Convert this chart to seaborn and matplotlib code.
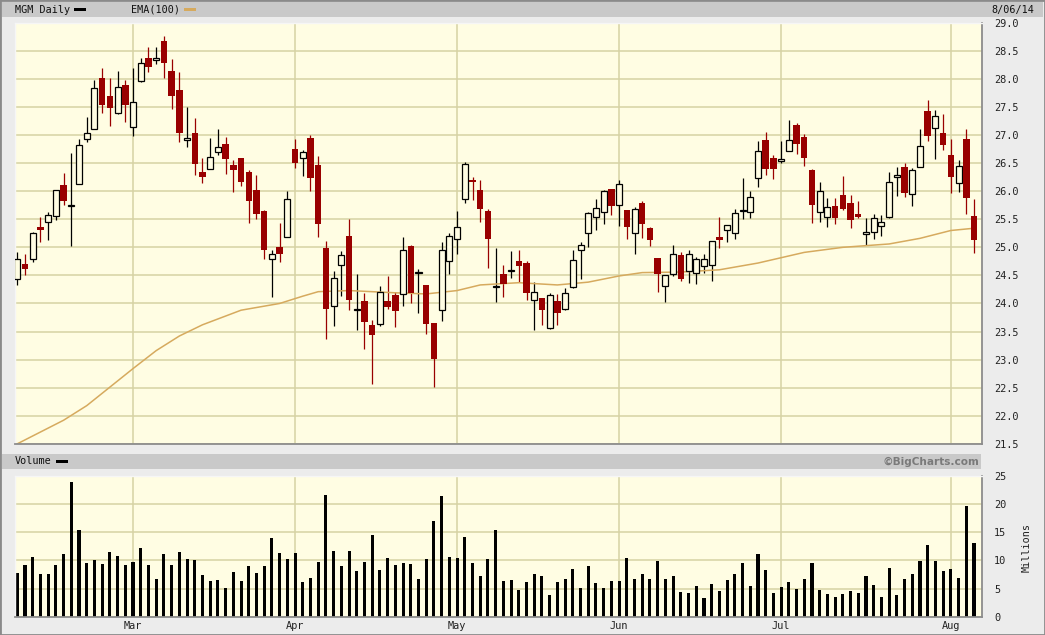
import matplotlib

matplotlib.use("Agg")
import matplotlib.pyplot as plt
import numpy as np
import pandas as pd
import seaborn as sns
from matplotlib.patches import Rectangle
from matplotlib.ticker import FormatStrFormatter

# trading days shown: 2014-02-07 .. 2014-08-06, exchange holidays removed
FIRST_DAY = "2014-02-07"
LAST_DAY = "2014-08-06"
HOLIDAYS = ["2014-02-17", "2014-04-18", "2014-05-26", "2014-07-04"]

OPENS = [
    24.43, 24.70, 24.80, 25.36, 25.45, 25.55, 26.11, 25.74, 26.13, 26.93,
    27.11, 28.01, 27.70, 27.39, 27.90, 27.14, 27.96, 28.38, 28.34, 28.67,
    28.14, 27.80, 26.91, 27.04, 26.35, 26.39, 26.70, 26.84, 26.47, 26.60,
    26.35, 26.02, 25.65, 24.79, 25.00, 25.19, 26.76, 26.59, 26.95, 26.46,
    24.99, 23.96, 24.68, 25.20, 23.89, 24.04, 23.61, 23.64, 24.04, 24.15,
    24.16, 25.02, 24.54, 24.33, 23.65, 23.875, 24.75, 25.15, 25.86, 26.20,
    26.02, 25.65, 24.30, 24.52, 24.58, 24.76, 24.72, 24.07, 24.09, 23.57,
    24.04, 23.90, 24.29, 24.96, 25.25, 25.54, 25.625, 26.04, 25.75, 25.66,
    25.25, 25.79, 25.345, 24.81, 24.31, 24.52, 24.86, 24.57, 24.54, 24.67,
    24.68, 25.18, 25.30, 25.25, 25.64, 25.625, 26.23, 26.91, 26.59, 26.54,
    26.72, 27.18, 26.97, 26.38, 25.625, 25.54, 25.74, 25.93, 25.79, 25.59,
    25.23, 25.27, 25.375, 25.54, 26.26, 26.43, 25.945, 26.43, 27.43, 27.13,
    27.04, 26.64, 26.15, 26.93, 25.55,
]
HIGHS = [
    24.92, 24.89, 25.27, 25.54, 25.63, 26.02, 26.32, 26.68, 26.93, 27.32,
    27.98, 28.20, 28.02, 28.14, 27.98, 28.20, 28.38, 28.56, 28.56, 28.76,
    28.35, 28.13, 27.50, 27.30, 26.59, 26.95, 27.11, 26.96, 26.55, 26.60,
    26.37, 26.29, 25.67, 24.95, 25.43, 26.01, 26.93, 26.73, 27.00, 26.63,
    25.11, 24.57, 24.93, 25.51, 24.52, 24.19, 23.71, 24.32, 24.49, 24.20,
    25.18, 25.04, 24.61, 24.33, 23.65, 25.10, 25.26, 25.65, 26.52, 26.26,
    26.20, 25.68, 24.99, 24.68, 24.93, 24.95, 24.75, 24.375, 24.09, 24.18,
    24.17, 24.27, 24.95, 25.10, 25.63, 25.86, 26.02, 26.04, 26.20, 25.66,
    25.71, 25.82, 25.37, 24.81, 24.51, 25.04, 24.92, 24.95, 24.82, 24.875,
    25.11, 25.54, 25.39, 25.68, 26.23, 26.00, 26.90, 27.06, 26.64, 26.90,
    27.26, 27.21, 27.02, 26.39, 26.17, 25.88, 25.87, 26.27, 25.93, 25.83,
    25.52, 25.59, 25.57, 26.35, 26.43, 26.51, 26.41, 27.10, 27.625, 27.45,
    27.37, 26.93, 26.56, 27.10, 25.86,
]
LOWS = [
    24.33, 24.51, 24.74, 25.10, 25.13, 25.49, 25.76, 25.02, 26.13, 26.87,
    27.11, 27.40, 27.17, 27.37, 27.24, 26.99, 27.94, 28.13, 28.26, 28.01,
    27.46, 26.87, 26.78, 26.28, 26.14, 26.39, 26.64, 26.30, 25.98, 26.10,
    25.44, 25.51, 24.80, 24.12, 24.74, 25.18, 26.42, 26.27, 26.00, 25.19,
    23.37, 23.60, 24.13, 23.89, 23.52, 23.19, 22.57, 23.60, 23.90, 23.58,
    23.96, 24.01, 23.83, 23.46, 22.51, 23.68, 24.53, 24.89, 25.79, 25.85,
    25.46, 24.625, 24.03, 24.12, 24.46, 24.39, 24.06, 23.52, 23.62, 23.54,
    23.62, 23.88, 24.27, 24.43, 25.01, 25.30, 25.41, 25.57, 25.375, 25.14,
    24.89, 25.17, 25.03, 24.20, 24.03, 24.49, 24.40, 24.37, 24.34, 24.54,
    24.40, 24.99, 25.10, 25.14, 25.50, 25.52, 26.07, 26.28, 26.21, 26.51,
    26.71, 26.66, 26.45, 25.43, 25.46, 25.36, 25.41, 25.67, 25.34, 25.52,
    25.05, 25.14, 25.21, 25.53, 25.92, 25.90, 25.73, 26.43, 26.90, 26.58,
    26.73, 25.96, 25.99, 25.595, 24.905,
]
CLOSES = [
    24.79, 24.62, 25.25, 25.30, 25.57, 26.02, 25.83, 25.75, 26.82, 27.04,
    27.84, 27.53, 27.48, 27.86, 27.53, 27.59, 28.29, 28.21, 28.38, 28.28,
    27.69, 27.03, 26.95, 26.49, 26.26, 26.61, 26.79, 26.57, 26.37, 26.17,
    25.83, 25.60, 24.96, 24.89, 24.875, 25.86, 26.51, 26.70, 26.24, 25.42,
    23.90, 24.45, 24.86, 24.07, 23.90, 23.67, 23.44, 24.21, 23.93, 23.87,
    24.96, 24.18, 24.55, 23.64, 23.01, 24.96, 25.21, 25.37, 26.48, 26.17,
    25.68, 25.14, 24.31, 24.35, 24.59, 24.67, 24.19, 24.20, 23.88, 24.15,
    23.83, 24.18, 24.77, 25.05, 25.61, 25.70, 26.00, 25.74, 26.125, 25.37,
    25.68, 25.42, 25.125, 24.52, 24.51, 24.89, 24.43, 24.89, 24.80, 24.79,
    25.11, 25.125, 25.39, 25.62, 25.65, 25.89, 26.71, 26.39, 26.39, 26.58,
    26.91, 26.84, 26.60, 25.76, 26.00, 25.71, 25.53, 25.68, 25.48, 25.54,
    25.28, 25.52, 25.45, 26.16, 26.27, 25.96, 26.375, 26.81, 26.99, 27.34,
    26.83, 26.25, 26.45, 25.875, 25.125,
]
# volume, millions of shares
VOLUMES = [
    7.74, 9.16, 10.58, 7.57, 7.57, 9.16, 11.11, 23.88, 15.37, 9.52,
    10.05, 9.34, 11.47, 10.76, 9.16, 9.69, 12.17, 9.16, 6.68, 11.11,
    9.16, 11.47, 10.22, 10.05, 7.39, 6.32, 6.50, 5.08, 7.92, 6.32,
    8.98, 7.74, 8.98, 13.95, 11.29, 10.22, 11.29, 6.15, 6.86, 9.69,
    21.57, 11.64, 8.98, 11.64, 8.10, 9.69, 14.48, 8.27, 10.40, 9.16,
    9.52, 9.34, 6.68, 10.22, 16.96, 21.39, 10.58, 10.40, 14.13, 9.52,
    7.21, 10.22, 15.37, 6.32, 6.50, 4.73, 6.15, 7.57, 7.21, 3.84,
    6.15, 6.68, 8.45, 5.08, 8.98, 5.97, 5.08, 6.32, 6.32, 10.40,
    6.68, 7.57, 6.68, 9.87, 6.68, 7.21, 4.37, 4.20, 5.44, 3.31,
    5.79, 4.55, 6.50, 7.57, 9.52, 5.44, 11.11, 8.27, 4.20, 5.26,
    6.15, 4.91, 6.68, 9.52, 4.73, 4.02, 3.49, 4.02, 4.55, 4.20,
    7.21, 5.61, 3.49, 8.63, 3.84, 6.68, 7.57, 9.87, 12.71, 9.87,
    8.10, 8.45, 6.86, 19.62, 13.06,
]
# EMA(100) at a few bars (bar index, value)
EMA_BARS = [0, 6, 9, 12, 15, 18, 21, 24, 29, 34, 37, 39, 43, 49, 53, 57, 60,
            65, 70, 74, 78, 81, 86, 91, 96, 102, 107, 113, 117, 121, 124]
EMA_VALUES = [21.50, 21.92, 22.18, 22.51, 22.84, 23.16, 23.42, 23.62, 23.88,
              24.00, 24.13, 24.21, 24.23, 24.19, 24.17, 24.23, 24.33, 24.37,
              24.33, 24.38, 24.49, 24.55, 24.56, 24.60, 24.72, 24.91, 25.00,
              25.06, 25.16, 25.30, 25.34]

PRICE_TICKS = np.arange(21.5, 29.01, 0.5)
VOLUME_TICKS = [0, 5, 10, 15, 20, 25]

PANEL_BG = "#ececec"
HEADER_BG = "#c9c9c9"
PLOT_BG = "#fffde3"
GRID = "#d6d2a4"
SPINE = "#8c8c8c"
DOWN_RED = "#990000"
EMA_COLOR = "#d6aa5e"
MONO = ["DejaVu Sans Mono", "DejaVu Sans"]

W, H = 1045, 635


def fx(px: float) -> float:
    return px / W


def fy(py: float) -> float:
    return 1 - py / H


def trading_days() -> pd.DatetimeIndex:
    days = pd.bdate_range(FIRST_DAY, LAST_DAY)
    return days[~days.isin(pd.to_datetime(HOLIDAYS))]


def style_axes(ax, yticks, fmt) -> None:
    ax.set_facecolor(PLOT_BG)
    ax.set_axisbelow(True)
    ax.grid(True, color=GRID, linewidth=1.1)
    ax.yaxis.tick_right()
    ax.set_yticks(yticks)
    ax.yaxis.set_major_formatter(FormatStrFormatter(fmt))
    ax.tick_params(axis="y", length=0, pad=9, labelsize=7.4, labelcolor="#222")
    ax.tick_params(axis="x", length=0, pad=3, labelsize=7.4, labelcolor="#222")
    for lab in ax.get_yticklabels() + ax.get_xticklabels():
        lab.set_family(MONO)
    ax.spines["top"].set_color("#f6f6f6")
    ax.spines["left"].set_color("#f6f6f6")
    ax.spines["right"].set_color(SPINE)
    ax.spines["bottom"].set_color(SPINE)
    for side in ("right", "bottom"):
        ax.spines[side].set_linewidth(1.3)
    for side in ("top", "left"):
        ax.spines[side].set_linewidth(1.0)
    ax.set_xlabel("")
    ax.set_ylabel("")


def main() -> None:
    sns.set_theme(style="white")
    plt.rcParams["font.family"] = MONO

    days = trading_days()
    idx = np.arange(len(days))
    o = np.array(OPENS)
    h = np.array(HIGHS)
    lo = np.array(LOWS)
    c = np.array(CLOSES)
    month_starts = [i for i in range(1, len(days)) if days[i].month != days[i - 1].month]
    month_labels = [days[i].strftime("%b") for i in month_starts]

    fig = plt.figure(figsize=(W / 100, H / 100), dpi=100, facecolor=PANEL_BG)

    # header bands and outer frame
    fig.add_artist(Rectangle((fx(2), fy(17)), fx(1041), 15 / H, transform=fig.transFigure,
                             facecolor=HEADER_BG, edgecolor="none"))
    fig.add_artist(Rectangle((fx(2), fy(469)), fx(979), 15 / H, transform=fig.transFigure,
                             facecolor=HEADER_BG, edgecolor="none"))
    fig.add_artist(Rectangle((0, 0), 1, 1, transform=fig.transFigure, fill=False,
                             edgecolor="#8a8a8a", linewidth=2.0))

    ax = fig.add_axes([fx(15), fy(443.8), fx(981.7) - fx(15), (443.8 - 22.8) / H])
    axv = fig.add_axes([fx(15), fy(617), fx(981.7) - fx(15), (617 - 475.7) / H])

    # candles
    up = c >= o
    body_low = np.minimum(o, c)
    body_h = np.maximum(np.abs(c - o), 0.02)
    ax.vlines(idx[up], lo[up], h[up], colors="black", linewidth=0.9, zorder=2)
    ax.vlines(idx[~up], lo[~up], h[~up], colors=DOWN_RED, linewidth=0.9, zorder=2)
    ax.bar(idx[up], body_h[up], bottom=body_low[up], width=0.78, facecolor=PLOT_BG,
           edgecolor="black", linewidth=0.9, zorder=3)
    ax.bar(idx[~up], body_h[~up], bottom=body_low[~up], width=0.84, facecolor=DOWN_RED,
           edgecolor="none", linewidth=0, zorder=3)

    sns.lineplot(x=EMA_BARS, y=EMA_VALUES, color=EMA_COLOR, linewidth=1.1, ax=ax, zorder=2.5)

    ax.set_xlim(-0.3, 125.0)
    ax.set_ylim(21.5, 29.0)
    ax.set_xticks(month_starts)
    ax.set_xticklabels([])
    style_axes(ax, PRICE_TICKS, "%.1f")

    # volume
    sns.barplot(x=idx, y=VOLUMES, native_scale=True, color="black", saturation=1,
                width=0.4, linewidth=0, errorbar=None, ax=axv)
    axv.set_xlim(-0.3, 125.0)
    axv.set_ylim(0, 25)
    axv.set_xticks(month_starts)
    axv.set_xticklabels(month_labels)
    style_axes(axv, VOLUME_TICKS, "%d")

    # header texts and legend swatches
    fig.text(fx(15), fy(9.8), "MGM Daily", fontsize=7.3, family=MONO, va="center", color="#111")
    fig.add_artist(Rectangle((fx(74), fy(11.2)), fx(11.5), 3.2 / H, transform=fig.transFigure,
                             facecolor="black", edgecolor="none"))
    fig.text(fx(130.5), fy(9.8), "EMA(100)", fontsize=7.3, family=MONO, va="center", color="#111")
    fig.add_artist(Rectangle((fx(183.5), fy(11.2)), fx(12), 3.2 / H, transform=fig.transFigure,
                             facecolor=EMA_COLOR, edgecolor="none"))
    fig.text(fx(1034.5), fy(9.8), "8/06/14", fontsize=7.3, family=MONO, va="center",
             ha="right", color="#111")

    fig.text(fx(15), fy(461.5), "Volume", fontsize=7.3, family=MONO, va="center", color="#111")
    fig.add_artist(Rectangle((fx(55.7), fy(463.3)), fx(12), 3.0 / H, transform=fig.transFigure,
                             facecolor="black", edgecolor="none"))
    fig.text(fx(979), fy(461.5), "\u00a9BigCharts.com", fontsize=7.6, family="DejaVu Sans",
             fontweight="bold", va="center", ha="right", color="#7a7a7a")

    fig.text(fx(1026.5), fy(547), "Millions", fontsize=7.3, family=MONO, rotation=90,
             va="center", ha="center", color="#222")

    fig.savefig("out.png", dpi=100, facecolor=PANEL_BG)
    plt.close(fig)


if __name__ == "__main__":
    main()
